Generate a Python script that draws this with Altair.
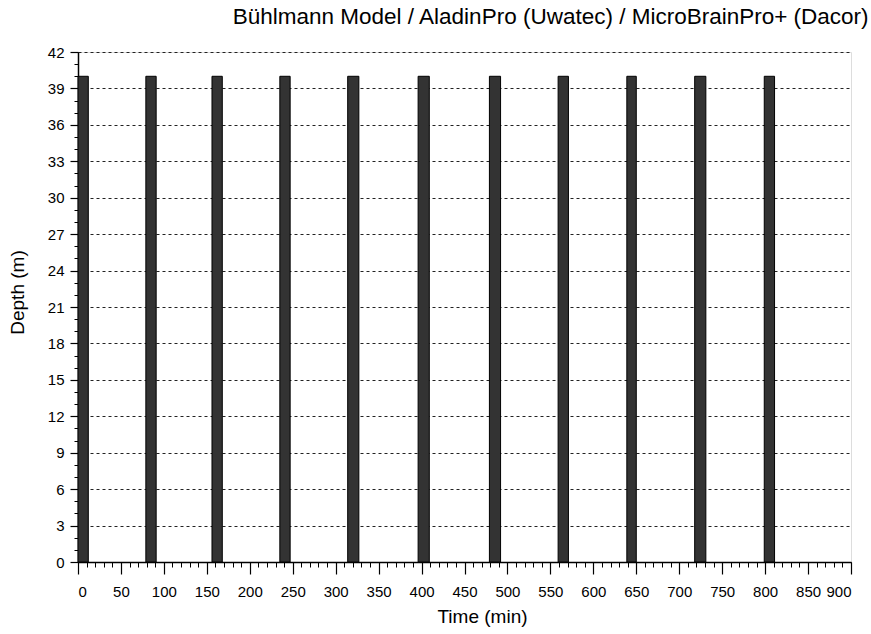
import altair as alt
import pandas as pd

# Dive profiles (time in minutes, depth in metres)
dive_start = [0, 79, 156, 235, 314, 396, 479, 559, 639, 718, 799]
dive_end = [12, 91, 168, 247, 327, 409, 492, 571, 650, 731, 811]
surface_depth = [0] * len(dive_start)
max_depth = [40] * len(dive_start)

x_major = list(range(0, 901, 50))
x_minor = list(range(0, 901, 10))
y_major = list(range(0, 43, 3))
y_minor = list(range(0, 43, 1))

df = pd.DataFrame({
    "start": dive_start,
    "end": dive_end,
    "bottom": surface_depth,
    "top": max_depth,
})

FONT = "Liberation Sans"

xscale = alt.Scale(domain=[0, 900], nice=False, zero=False)
yscale = alt.Scale(domain=[0, 42], nice=False, zero=False)

bars = alt.Chart(df).mark_rect(
    fill="#333333", stroke="#000000", strokeWidth=1
).encode(
    x=alt.X("start:Q", scale=xscale, axis=alt.Axis(
        values=x_major, title="Time (min)", orient="bottom",
        tickSize=12, tickColor="black", tickWidth=1.2,
        domainColor="black", domainWidth=1.5,
        labelFont=FONT, labelFontSize=15, labelColor="black", labelPadding=10,
        titleFont=FONT, titleFontSize=19, titleFontWeight="normal", titleColor="black",
        titleX=404, titleY=45, titleBaseline="top", titleAnchor="start", titleAlign="center",
        grid=False)),
    x2="end:Q",
    y=alt.Y("bottom:Q", scale=yscale, axis=alt.Axis(
        values=y_major, title="Depth (m)", orient="left",
        tickSize=8, tickColor="black", tickWidth=1.2,
        domainColor="black", domainWidth=1.5,
        labelFont=FONT, labelFontSize=15, labelColor="black", labelPadding=6,
        titleFont=FONT, titleFontSize=19, titleFontWeight="normal", titleColor="black",
        titleX=-51, titleY=240, titleAngle=-90, titleAlign="center", titleBaseline="bottom",
        grid=True, gridColor="#222222", gridDash=[3, 3], gridWidth=1)),
    y2="top:Q",
)

minor = alt.Chart(df).mark_point(opacity=0).encode(
    x=alt.X("start:Q", scale=xscale, axis=alt.Axis(
        values=x_minor, orient="bottom", labels=False, title=None,
        tickSize=5, tickColor="black", tickWidth=1, domain=False, grid=False)),
    y=alt.Y("bottom:Q", scale=yscale, axis=alt.Axis(
        values=y_minor, orient="left", labels=False, title=None,
        tickSize=4, tickColor="black", tickWidth=1, domain=False, grid=False)),
)

chart = alt.layer(minor, bars).resolve_axis(
    x="independent", y="independent"
).properties(
    width=773,
    height=510,
    autosize=alt.AutoSizeParams(type="none"),
    padding={"left": 78, "top": 52, "right": 20, "bottom": 72},
    title=alt.TitleParams(
        "Bühlmann Model / AladinPro (Uwatec) / MicroBrainPro+ (Dacor)",
        anchor="end", dx=17, offset=17, font=FONT, fontSize=22.5,
        fontWeight="normal", color="black",
    ),
).configure_view(
    stroke="black", strokeWidth=1.5
).configure(background="white")

chart.save("out.html", embed_options={"renderer": "svg", "actions": False})
